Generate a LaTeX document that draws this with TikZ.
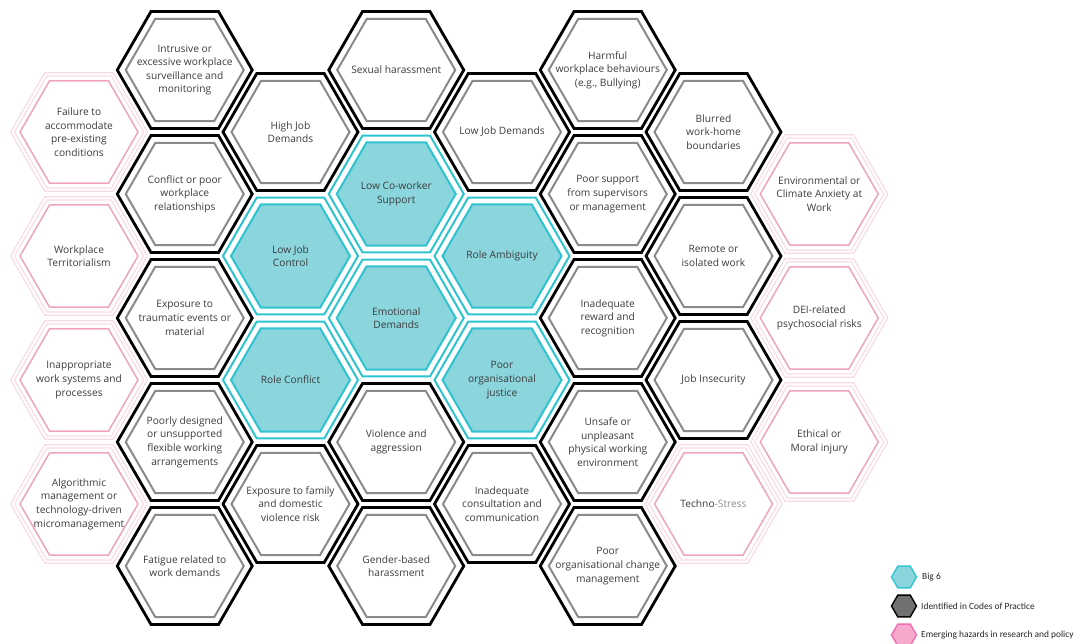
\documentclass[tikz,border=0pt]{standalone}
\usepackage{fontspec}
\setmainfont{Open Sans}
\newfontfamily\legendfont{Carlito}
\usetikzlibrary{shapes.geometric}
\definecolor{txtgrey}{HTML}{3C3C3C}
\definecolor{innergrey}{HTML}{8A8A8A}
\definecolor{cyanline}{HTML}{2EC3D0}
\definecolor{cyanfill}{HTML}{8BD5DD}
\definecolor{pinkline}{HTML}{F0A3BF}
\definecolor{pinkfaint}{HTML}{F9DAE5}
\definecolor{stressgrey}{HTML}{8C8C8C}
\definecolor{leggrey}{HTML}{707070}
\definecolor{legpinkfill}{HTML}{F7A9CB}
\definecolor{legpinkline}{HTML}{F06CB0}
\definecolor{legcyanline}{HTML}{33C6D4}
\tikzset{
  hexbase/.style={regular polygon, regular polygon sides=6, inner sep=0pt, outer sep=0pt},
  blkouter/.style={hexbase, minimum size=135pt, draw=black, line width=2.8pt},
  blkinner/.style={hexbase, minimum size=118pt, draw=innergrey, line width=2pt},
  cynouter/.style={hexbase, minimum size=135pt, draw=cyanline, line width=2pt},
  cyninner/.style={hexbase, minimum size=119pt, draw=cyanline, fill=cyanfill, line width=2pt},
  pnkouter/.style={hexbase, minimum size=133pt, draw=pinkfaint, line width=1.3pt, double=white, double distance=2pt},
  pnkinner/.style={hexbase, minimum size=118pt, draw=pinkline, line width=1.5pt},
  hextext/.style={align=center, inner sep=0pt, text=txtgrey, font=\fontsize{10.2}{13.6}\selectfont},
  leghex/.style={hexbase, minimum size=25pt, line width=1.4pt},
  legtext/.style={anchor=west, inner sep=0pt, text=black!85, font=\legendfont\fontsize{9.4}{11}\selectfont}
}
\newcommand\hexcell[4]{%
  \node[#1outer] (#2) at (#3) {};
  \node[#1inner] (#2i) at (#3) {};
  \node[hextext] (#2t) at (#3) {#4};
}
\begin{document}
\begin{tikzpicture}[x=1pt,y=-1pt]
\useasboundingbox (0,0) rectangle (1087,643);
% column 0 (pink)
\hexcell{pnk}{a0}{79,132}{Failure to\\accommodate\\pre-existing\\conditions}
\hexcell{pnk}{a1}{79,256}{Workplace\\Territorialism}
\hexcell{pnk}{a2}{79,380}{Inappropriate\\work systems and\\processes}
\hexcell{pnk}{a3}{79,504}{Algorithmic\\management or\\technology-driven\\micromanagement}
% column 1
\hexcell{blk}{b0}{184.75,70}{Intrusive or\\excessive workplace\\surveillance and\\monitoring}
\hexcell{blk}{b1}{184.75,194}{Conflict or poor\\workplace\\relationships}
\hexcell{blk}{b2}{184.75,318}{Exposure to\\traumatic events or\\material}
\hexcell{blk}{b3}{184.75,442}{Poorly designed\\or unsupported\\flexible working\\arrangements}
\hexcell{blk}{b4}{184.75,566}{Fatigue related to\\work demands}
% column 2
\hexcell{blk}{c0}{290.5,132}{High Job\\Demands}
\hexcell{cyn}{c1}{290.5,256}{Low Job\\Control}
\hexcell{cyn}{c2}{290.5,380}{Role Conflict}
\hexcell{blk}{c3}{290.5,504}{Exposure to family\\and domestic\\violence risk}
% column 3
\hexcell{blk}{d0}{396.25,70}{Sexual harassment}
\hexcell{cyn}{d1}{396.25,194}{Low Co-worker\\Support}
\hexcell{cyn}{d2}{396.25,318}{Emotional\\Demands}
\hexcell{blk}{d3}{396.25,442}{Violence and\\aggression}
\hexcell{blk}{d4}{396.25,566}{Gender-based\\harassment}
% column 4
\hexcell{blk}{e0}{502,132}{Low Job Demands}
\hexcell{cyn}{e1}{502,256}{Role Ambiguity}
\hexcell{cyn}{e2}{502,380}{Poor\\organisational\\justice}
\hexcell{blk}{e3}{502,504}{Inadequate\\consultation and\\communication}
% column 5
\hexcell{blk}{f0}{607.75,70}{Harmful\\workplace behaviours\\(e.g., Bullying)}
\hexcell{blk}{f1}{607.75,194}{Poor support\\from supervisors\\or management}
\hexcell{blk}{f2}{607.75,318}{Inadequate\\reward and\\recognition}
\hexcell{blk}{f3}{607.75,442}{Unsafe or\\unpleasant\\physical working\\environment}
\hexcell{blk}{f4}{607.75,566}{Poor\\organisational change\\management}
% column 6
\hexcell{blk}{g0}{713.5,132}{Blurred\\work-home\\boundaries}
\hexcell{blk}{g1}{713.5,256}{Remote or\\isolated work}
\hexcell{blk}{g2}{713.5,380}{Job Insecurity}
\hexcell{pnk}{g3}{713.5,504}{Techno\textcolor{stressgrey}{-Stress}}
% column 7 (pink)
\hexcell{pnk}{h0}{819.25,194}{Environmental or\\Climate Anxiety at\\Work}
\hexcell{pnk}{h1}{819.25,318}{DEI-related\\psychosocial risks}
\hexcell{pnk}{h2}{819.25,442}{Ethical or\\Moral injury}
% legend
\node[leghex, draw=legcyanline, fill=cyanfill] (l1) at (904,577) {};
\node[legtext] (l1t) at (922,577) {Big 6};
\node[leghex, draw=black, fill=leggrey] (l2) at (904,606) {};
\node[legtext] (l2t) at (921,606) {Identified in Codes of Practice};
\node[leghex, draw=legpinkline, fill=legpinkfill] (l3) at (904,635) {};
\node[legtext] (l3t) at (921,635) {Emerging hazards in research and policy};
\end{tikzpicture}
\end{document}
